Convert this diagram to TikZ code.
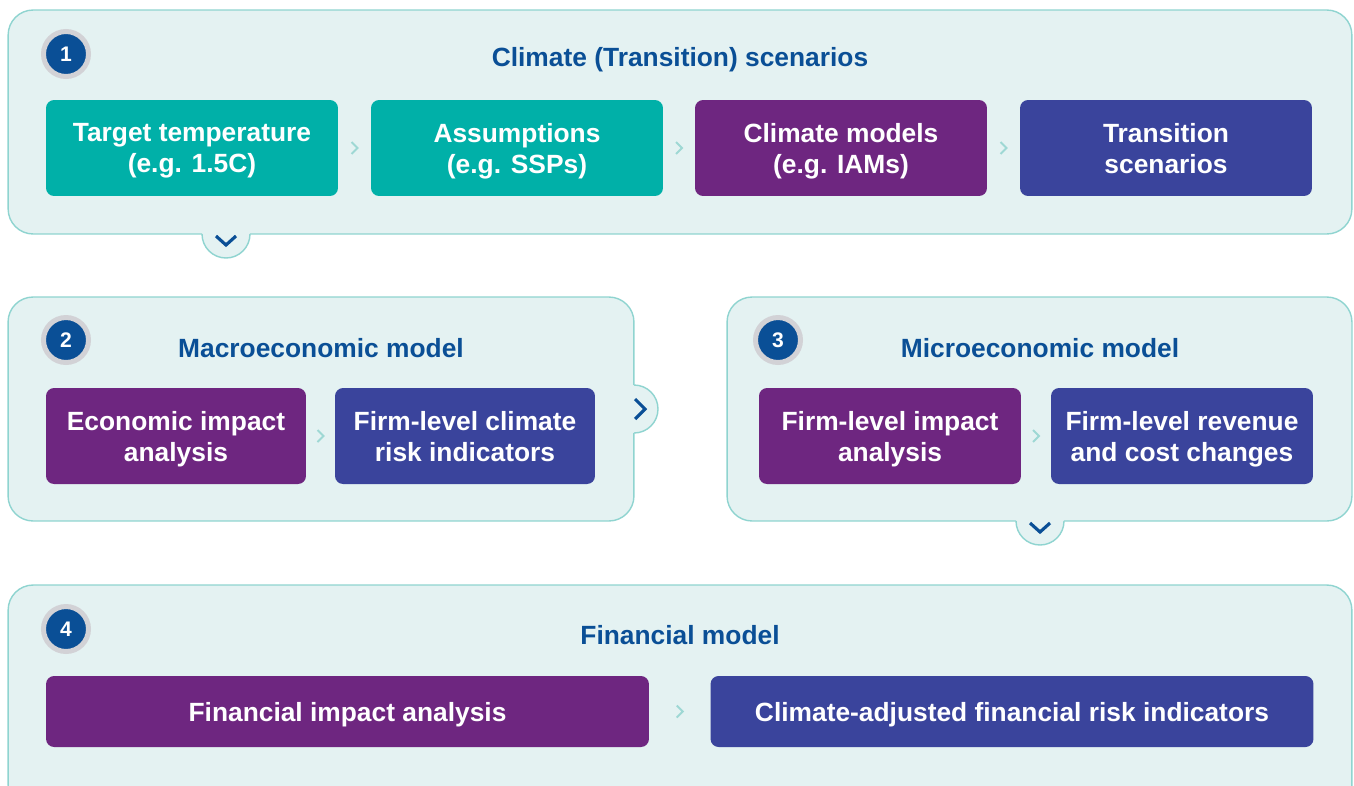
\documentclass[tikz,border=0pt]{standalone}
\usepackage{fontspec}
\setmainfont{Liberation Sans}
\usetikzlibrary{calc}
\definecolor{panelfill}{HTML}{E4F2F2}
\definecolor{panelline}{HTML}{8FD4D0}
\definecolor{tealfill}{HTML}{00B0A8}
\definecolor{purplefill}{HTML}{6E2680}
\definecolor{indigofill}{HTML}{3A449C}
\definecolor{titleblue}{HTML}{0A4F96}
\definecolor{ringgrey}{HTML}{D2D2D6}
\definecolor{chevlight}{HTML}{9ED8D4}
\tikzset{
  panel/.style={draw=panelline,fill=panelfill,line width=0.8pt,rounded corners=0.5cm,inner sep=0pt,minimum height=4.48cm},
  stagebox/.style={rounded corners=0.16cm,text=white,align=center,inner sep=0pt,minimum height=1.92cm,
    text depth=0pt,font=\bfseries\fontsize{15}{17.6}\selectfont},
  heading/.style={text=titleblue,font=\bfseries\fontsize{15}{18}\selectfont},
  badge/.style={circle,fill=titleblue,draw=ringgrey,line width=0.1cm,minimum size=0.9cm,inner sep=0pt,
    text=white,font=\bfseries\fontsize{12}{14}\selectfont},
  linkchev/.style={draw=chevlight,line width=1.1pt},
  tabchev/.style={draw=titleblue,line width=1.8pt},
}

\begin{document}
\begin{tikzpicture}[x=0.02cm,y=-0.02cm]
\useasboundingbox (0,0) rectangle (1354,785);
\node[panel,minimum width=26.88cm] (p1) at (680,122) {};
\node[panel,minimum width=12.52cm] (p2) at (321,409) {};
\node[panel,minimum width=12.5cm] (p3) at (1039.5,409) {};
\node[panel,minimum width=26.88cm,minimum height=4.5cm] (p4) at (680,697.5) {};
\coordinate (tab1) at (226,234);
\coordinate (tab2) at (634,409);
\coordinate (tab3) at (1040,521);
\fill[panelfill] (tab1) circle (0.48cm);
\fill[panelfill] (tab2) circle (0.48cm);
\fill[panelfill] (tab3) circle (0.48cm);
\draw[panelline,line width=0.8pt] ($(tab1)+(-0.48cm,0)$) arc[start angle=180,end angle=360,radius=0.48cm];
\draw[panelline,line width=0.8pt] ($(tab2)+(0,0.48cm)$) arc[start angle=90,end angle=-90,radius=0.48cm];
\draw[panelline,line width=0.8pt] ($(tab3)+(-0.48cm,0)$) arc[start angle=180,end angle=360,radius=0.48cm];
\draw[tabchev] ($(tab1)+(-10,2)$) -- ++(10,9) -- ++(10,-9);
\draw[tabchev] ($(tab2)+(1,-10)$) -- ++(10,10) -- ++(-10,10);
\draw[tabchev] ($(tab3)+(-10,2)$) -- ++(10,9) -- ++(10,-9);
\node[badge] (b1) at (66,54) {1};
\node[badge] (b2) at (66,340) {2};
\node[badge] (b3) at (778,340) {3};
\node[badge] (b4) at (66,629) {4};
\node[heading] (h1) at (680,60) {Climate (Transition) scenarios};
\node[heading] (h2) at (321,348) {Macroeconomic model};
\node[heading] (h3) at (1040,348) {Microeconomic model};
\node[heading] (h4) at (680,635) {Financial model};
\node[stagebox,fill=tealfill,minimum width=5.84cm] (target) at (192,148) {Target temperature\\(e.g. 1.5C)};
\node[stagebox,fill=tealfill,minimum width=5.84cm] (assume) at (517,148) {Assumptions\\(e.g. SSPs)};
\node[stagebox,fill=purplefill,minimum width=5.84cm] (models) at (841,148) {Climate models\\(e.g. IAMs)};
\node[stagebox,fill=indigofill,minimum width=5.84cm] (trans) at (1166,148) {Transition\\scenarios};
\node[stagebox,fill=purplefill,minimum width=5.2cm] (econ) at (176,436) {Economic impact\\analysis};
\node[stagebox,fill=indigofill,minimum width=5.2cm] (firmrisk) at (465,436) {Firm-level climate\\risk indicators};
\node[stagebox,fill=purplefill,minimum width=5.24cm] (firmimp) at (890,436) {Firm-level impact\\analysis};
\node[stagebox,fill=indigofill,minimum width=5.24cm] (firmrev) at (1182,436) {Firm-level revenue\\and cost changes};
\node[stagebox,fill=purplefill,minimum width=12.06cm,minimum height=1.42cm] (finimp) at (347.5,711.5) {Financial impact analysis};
\node[stagebox,fill=indigofill,minimum width=12.06cm,minimum height=1.42cm] (finrisk) at (1012,711.5) {Climate-adjusted financial risk indicators};
\path (target.east) -- (assume.west) coordinate[midway] (l1);
\path (assume.east) -- (models.west) coordinate[midway] (l2);
\path (models.east) -- (trans.west) coordinate[midway] (l3);
\path (econ.east) -- (firmrisk.west) coordinate[midway] (l4);
\path (firmimp.east) -- (firmrev.west) coordinate[midway] (l5);
\path (finimp.east) -- (finrisk.west) coordinate[midway] (l6);
\draw[linkchev] ($(l1)+(-3,-6)$) -- ++(6,6) -- ++(-6,6);
\draw[linkchev] ($(l2)+(-3,-6)$) -- ++(6,6) -- ++(-6,6);
\draw[linkchev] ($(l3)+(-3,-6)$) -- ++(6,6) -- ++(-6,6);
\draw[linkchev] ($(l4)+(-3,-6)$) -- ++(6,6) -- ++(-6,6);
\draw[linkchev] ($(l5)+(-3,-6)$) -- ++(6,6) -- ++(-6,6);
\draw[linkchev] ($(l6)+(-3,-6)$) -- ++(6,6) -- ++(-6,6);
\end{tikzpicture}
\end{document}
